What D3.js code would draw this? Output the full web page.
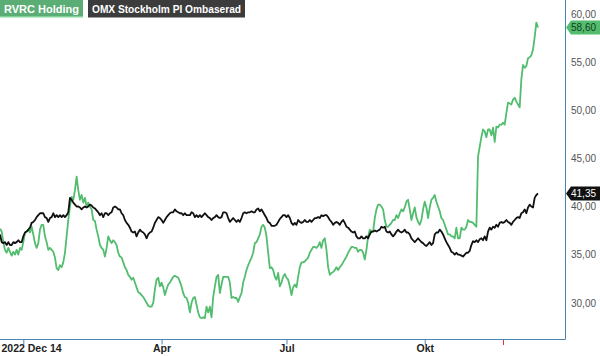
<!DOCTYPE html>
<html><head><meta charset="utf-8">
<script src="https://cdn.jsdelivr.net/npm/d3@7/dist/d3.min.js"></script>
<style>body{margin:0;background:#fff}svg{display:block;font-family:Arial,"Liberation Sans",sans-serif}</style>
</head><body><svg id="c" width="600" height="356"></svg>
<script>
const seriesNames = ["RVRC Holding", "OMX Stockholm PI Ombaserad"];
const rvrc = [
37.7,37.4,36.3,35.5,35.2,35.7,35.3,34.9,35.3,35.0,
35.5,35.0,35.7,35.5,36.3,37.3,37.4,37.6,37.3,37.9,
37.1,36.2,35.7,36.2,37.6,38.1,38.1,36.9,36.3,35.5,
35.7,35.5,35.3,34.7,33.6,33.4,33.9,33.7,34.2,35.2,
36.9,38.6,40.0,41.0,40.7,41.7,43.1,41.7,40.7,41.2,
40.4,40.9,40.0,40.4,40.0,39.7,38.6,38.5,37.6,36.9,
36.0,35.7,35.5,34.8,35.7,36.9,36.5,36.2,36.5,36.3,
36.0,35.2,34.8,34.7,34.2,33.7,33.4,32.9,32.7,32.4,
32.6,32.1,31.6,31.1,31.0,30.8,30.6,30.3,30.0,29.7,
29.6,29.6,30.0,31.4,32.4,32.6,31.7,32.1,31.6,30.8,
31.4,31.9,32.1,32.4,32.7,32.8,32.7,32.6,32.2,31.7,
31.0,30.6,30.5,30.0,29.0,30.0,30.5,30.6,29.8,29.0,
28.5,28.4,28.5,28.4,29.6,29.0,29.6,28.5,30.6,31.7,
32.7,32.9,31.0,31.9,32.7,32.7,32.7,32.7,32.1,30.5,
30.6,30.5,30.5,30.1,30.6,31.0,32.1,32.7,33.4,33.9,
34.3,34.7,35.2,36.2,36.3,36.7,37.1,37.9,38.1,37.8,
36.9,35.2,33.6,33.7,33.4,32.7,32.4,33.1,31.7,32.1,
32.7,33.0,32.6,32.4,31.7,30.8,31.6,31.9,31.6,32.7,
33.7,34.2,34.2,34.3,34.5,34.7,35.2,35.5,35.8,35.8,
35.7,35.9,36.3,35.7,36.5,36.7,35.5,33.7,32.9,33.1,
33.2,33.4,33.7,33.4,33.7,33.9,34.2,34.5,34.8,35.2,
35.5,35.8,35.8,35.7,35.7,35.3,35.5,35.5,35.2,34.5,
35.5,36.9,37.6,37.4,37.4,38.8,39.7,40.2,40.2,40.0,
39.7,38.6,37.9,37.9,38.1,38.3,38.6,38.6,39.1,38.8,
39.3,39.7,39.5,39.9,40.5,40.7,39.7,38.6,39.3,39.9,
38.9,38.4,38.1,38.6,39.7,40.5,39.9,38.8,39.9,40.7,
40.9,41.2,40.5,40.0,39.5,38.8,38.6,38.1,37.6,37.1,
37.1,36.9,36.9,36.7,37.8,36.7,36.7,37.8,37.6,37.6,
37.9,38.6,38.4,38.4,38.3,38.1,37.9,45.2,46.2,47.2,
48.0,47.8,47.2,48.0,48.0,47.4,48.2,46.7,48.3,48.2,
48.5,48.5,48.7,48.5,49.7,50.8,50.7,50.6,51.1,51.3,
50.9,50.6,50.3,53.2,54.7,54.4,54.6,55.4,55.5,55.7,
56.3,57.6,59.1,58.6];
const omx = [
37.1,36.3,36.2,36.3,36.0,36.3,36.0,36.0,36.3,36.2,
36.3,36.5,36.3,36.3,36.9,37.3,37.4,37.6,37.8,38.3,
38.4,38.6,38.9,39.1,39.3,39.3,39.3,38.9,38.8,38.4,
38.8,38.9,39.3,38.9,39.1,38.9,39.1,38.9,39.1,38.9,
39.1,39.4,40.9,40.7,40.4,40.2,40.0,40.0,39.9,39.7,
39.9,40.0,39.9,40.0,40.2,40.1,39.9,39.8,39.6,39.4,
39.1,39.3,38.9,39.3,39.3,39.1,39.3,39.4,39.9,40.0,
39.9,39.7,39.7,39.3,39.1,38.6,38.3,38.1,37.8,37.4,
37.3,37.4,36.9,37.3,37.6,37.4,37.3,37.1,36.7,37.1,
37.3,37.4,37.8,38.3,38.6,38.9,38.8,38.6,38.3,38.6,
38.9,39.1,39.3,39.4,39.4,39.7,39.5,39.4,39.3,39.3,
39.1,39.3,39.1,39.1,39.1,39.4,39.3,38.9,39.1,38.9,
39.1,38.9,39.1,39.3,39.1,38.9,38.8,38.6,38.8,38.9,
39.1,38.9,38.8,38.9,39.4,39.4,39.3,38.8,38.4,38.6,
38.8,38.6,38.4,38.6,38.4,38.8,39.3,39.4,39.3,39.4,
39.4,39.5,39.4,39.4,39.7,39.8,39.5,39.7,39.4,39.1,
38.8,38.4,38.3,38.0,38.0,38.0,38.1,38.4,38.7,38.9,
39.1,39.1,38.9,39.1,38.8,38.3,38.1,38.3,38.1,38.6,
38.4,38.3,38.4,38.6,38.4,38.4,38.6,38.4,38.6,38.8,
38.8,38.9,38.8,39.1,39.0,39.1,39.1,38.9,38.6,38.4,
38.1,38.3,38.4,38.3,38.1,38.4,38.6,38.3,37.9,37.8,
37.6,37.4,37.3,37.4,36.9,36.7,36.7,36.9,36.7,36.7,
36.9,36.7,37.1,37.4,37.4,37.5,37.4,37.5,37.6,37.9,
37.8,37.9,37.4,37.3,37.4,37.1,36.9,37.1,37.4,37.6,
37.4,37.3,37.4,37.6,37.3,37.3,37.1,36.7,36.5,36.3,
36.5,36.7,36.5,36.3,36.2,36.0,35.9,36.1,36.3,36.0,
36.2,37.1,37.3,37.3,37.6,37.4,37.1,36.7,36.3,36.0,
35.7,35.3,35.2,35.0,35.2,35.0,35.0,34.9,34.8,35.0,
35.2,35.2,35.4,36.0,36.4,36.3,36.5,36.3,36.6,36.7,
36.5,36.9,36.5,37.4,37.8,37.6,37.9,37.8,38.1,37.9,
38.3,38.4,38.3,38.4,38.6,38.4,38.3,38.1,38.4,38.6,
38.8,38.9,38.8,39.3,39.4,39.7,39.3,39.9,40.2,40.0,
39.9,40.9,41.2,41.35];
const tickIndex = [14, 97, 172, 255];
const tickLabels = ["2022 Dec 14", "Apr", "Jul", "Okt"];
const markerIndex = [302];
const yTicks = [30, 35, 40, 45, 50, 55, 60];
const lastLabels = ["58,60", "41,35"];

const svg = d3.select("#c");
const frameR = 565, frameB = 339;
const FONT = "Arial, 'Liberation Sans', sans-serif";
const x = d3.scaleLinear().domain([0, rvrc.length - 1]).range([0, 538]);
const y = d3.scaleLinear().domain([26.24, 61.45]).range([frameB, 0]);
const fmt = v => d3.format(".2f")(v).replace(".", ",");
const green = "#52bd6e", frameCol = "#4a86b4";

// frame
svg.append("line").attr("x1", frameR + 0.5).attr("x2", frameR + 0.5).attr("y1", 0).attr("y2", frameB + 0.5)
  .attr("stroke", frameCol).attr("stroke-width", 1);
// x axis
const xAxis = d3.axisBottom(x).tickValues(tickIndex).tickFormat((d, i) => tickLabels[i]).tickSize(5).tickSizeOuter(0);
const gx = svg.append("g").attr("transform", `translate(0,${frameB + 0.5})`).call(xAxis);
gx.select(".domain").attr("stroke", frameCol).attr("d", `M0,0H${frameR + 0.5}`);
gx.selectAll(".tick line").attr("stroke", frameCol);
gx.selectAll(".tick text").attr("font-family", FONT).attr("font-size", 10.5)
  .attr("font-weight", "bold").attr("fill", "#222").attr("dy", "0.45em");
gx.selectAll(".tick text").filter((d, i) => i === 0).attr("text-anchor", "start").attr("x", -x(tickIndex[0]) + 1);
svg.append("g").selectAll("line").data(markerIndex).join("line")
  .attr("x1", d => x(d) + 0.5).attr("x2", d => x(d) + 0.5).attr("y1", frameB + 1).attr("y2", frameB + 6)
  .attr("stroke", "#e0303a").attr("stroke-width", 1);

// y axis labels
const yAxis = d3.axisRight(y).tickValues(yTicks).tickFormat(fmt).tickSize(0);
const gy = svg.append("g").attr("transform", `translate(${frameR + 3},0)`).call(yAxis);
gy.select(".domain").remove();
gy.selectAll(".tick text").attr("font-family", FONT).attr("font-size", 10).attr("fill", "#555");

// lines
const line = d3.line().x((d, i) => x(i)).y(d => y(d));
svg.append("path").datum(rvrc).attr("d", line).attr("fill", "none").attr("stroke", green).attr("stroke-width", 1.8).attr("stroke-linejoin", "round");
svg.append("path").datum(omx).attr("d", line).attr("fill", "none").attr("stroke", "#111").attr("stroke-width", 1.8).attr("stroke-linejoin", "round");

// end badges
const badges = [
  {v: rvrc[rvrc.length - 1], label: lastLabels[0], fill: green, text: "#153d20"},
  {v: omx[omx.length - 1], label: lastLabels[1], fill: "#111", text: "#fff"}
];
badges.forEach(b => {
  const yy = y(b.v);
  svg.append("path").attr("d", `M${frameR + 1},${yy} L${frameR + 6},${yy - 7} L600,${yy - 7} L600,${yy + 7} L${frameR + 6},${yy + 7} Z`).attr("fill", b.fill);
  svg.append("text").attr("x", frameR + 6).attr("y", yy).attr("dy", "0.35em").attr("font-family", FONT).attr("font-size", 10)
    .attr("fill", b.text).text(b.label);
});

// legend
const legend = [
  {name: seriesNames[0], x0: 0, w: 83, fill: "#5aad74", border: "#7fd398"},
  {name: seriesNames[1], x0: 88, w: 157, fill: "#3c3c3c", border: "#3c3c3c"}
];
legend.forEach(l => {
  svg.append("rect").attr("x", l.x0).attr("y", 0).attr("width", l.w).attr("height", 17).attr("fill", l.fill);
  svg.append("rect").attr("x", l.x0).attr("y", 16).attr("width", l.w).attr("height", 1.5).attr("fill", l.border);
  svg.append("text").attr("x", l.x0 + 4).attr("y", 12.5).attr("font-family", FONT).attr("font-size", 10.5).attr("font-weight", "bold")
    .attr("fill", "#fff").attr("textLength", l.w - 8).attr("lengthAdjust", "spacingAndGlyphs").text(l.name);
});
</script></body></html>
